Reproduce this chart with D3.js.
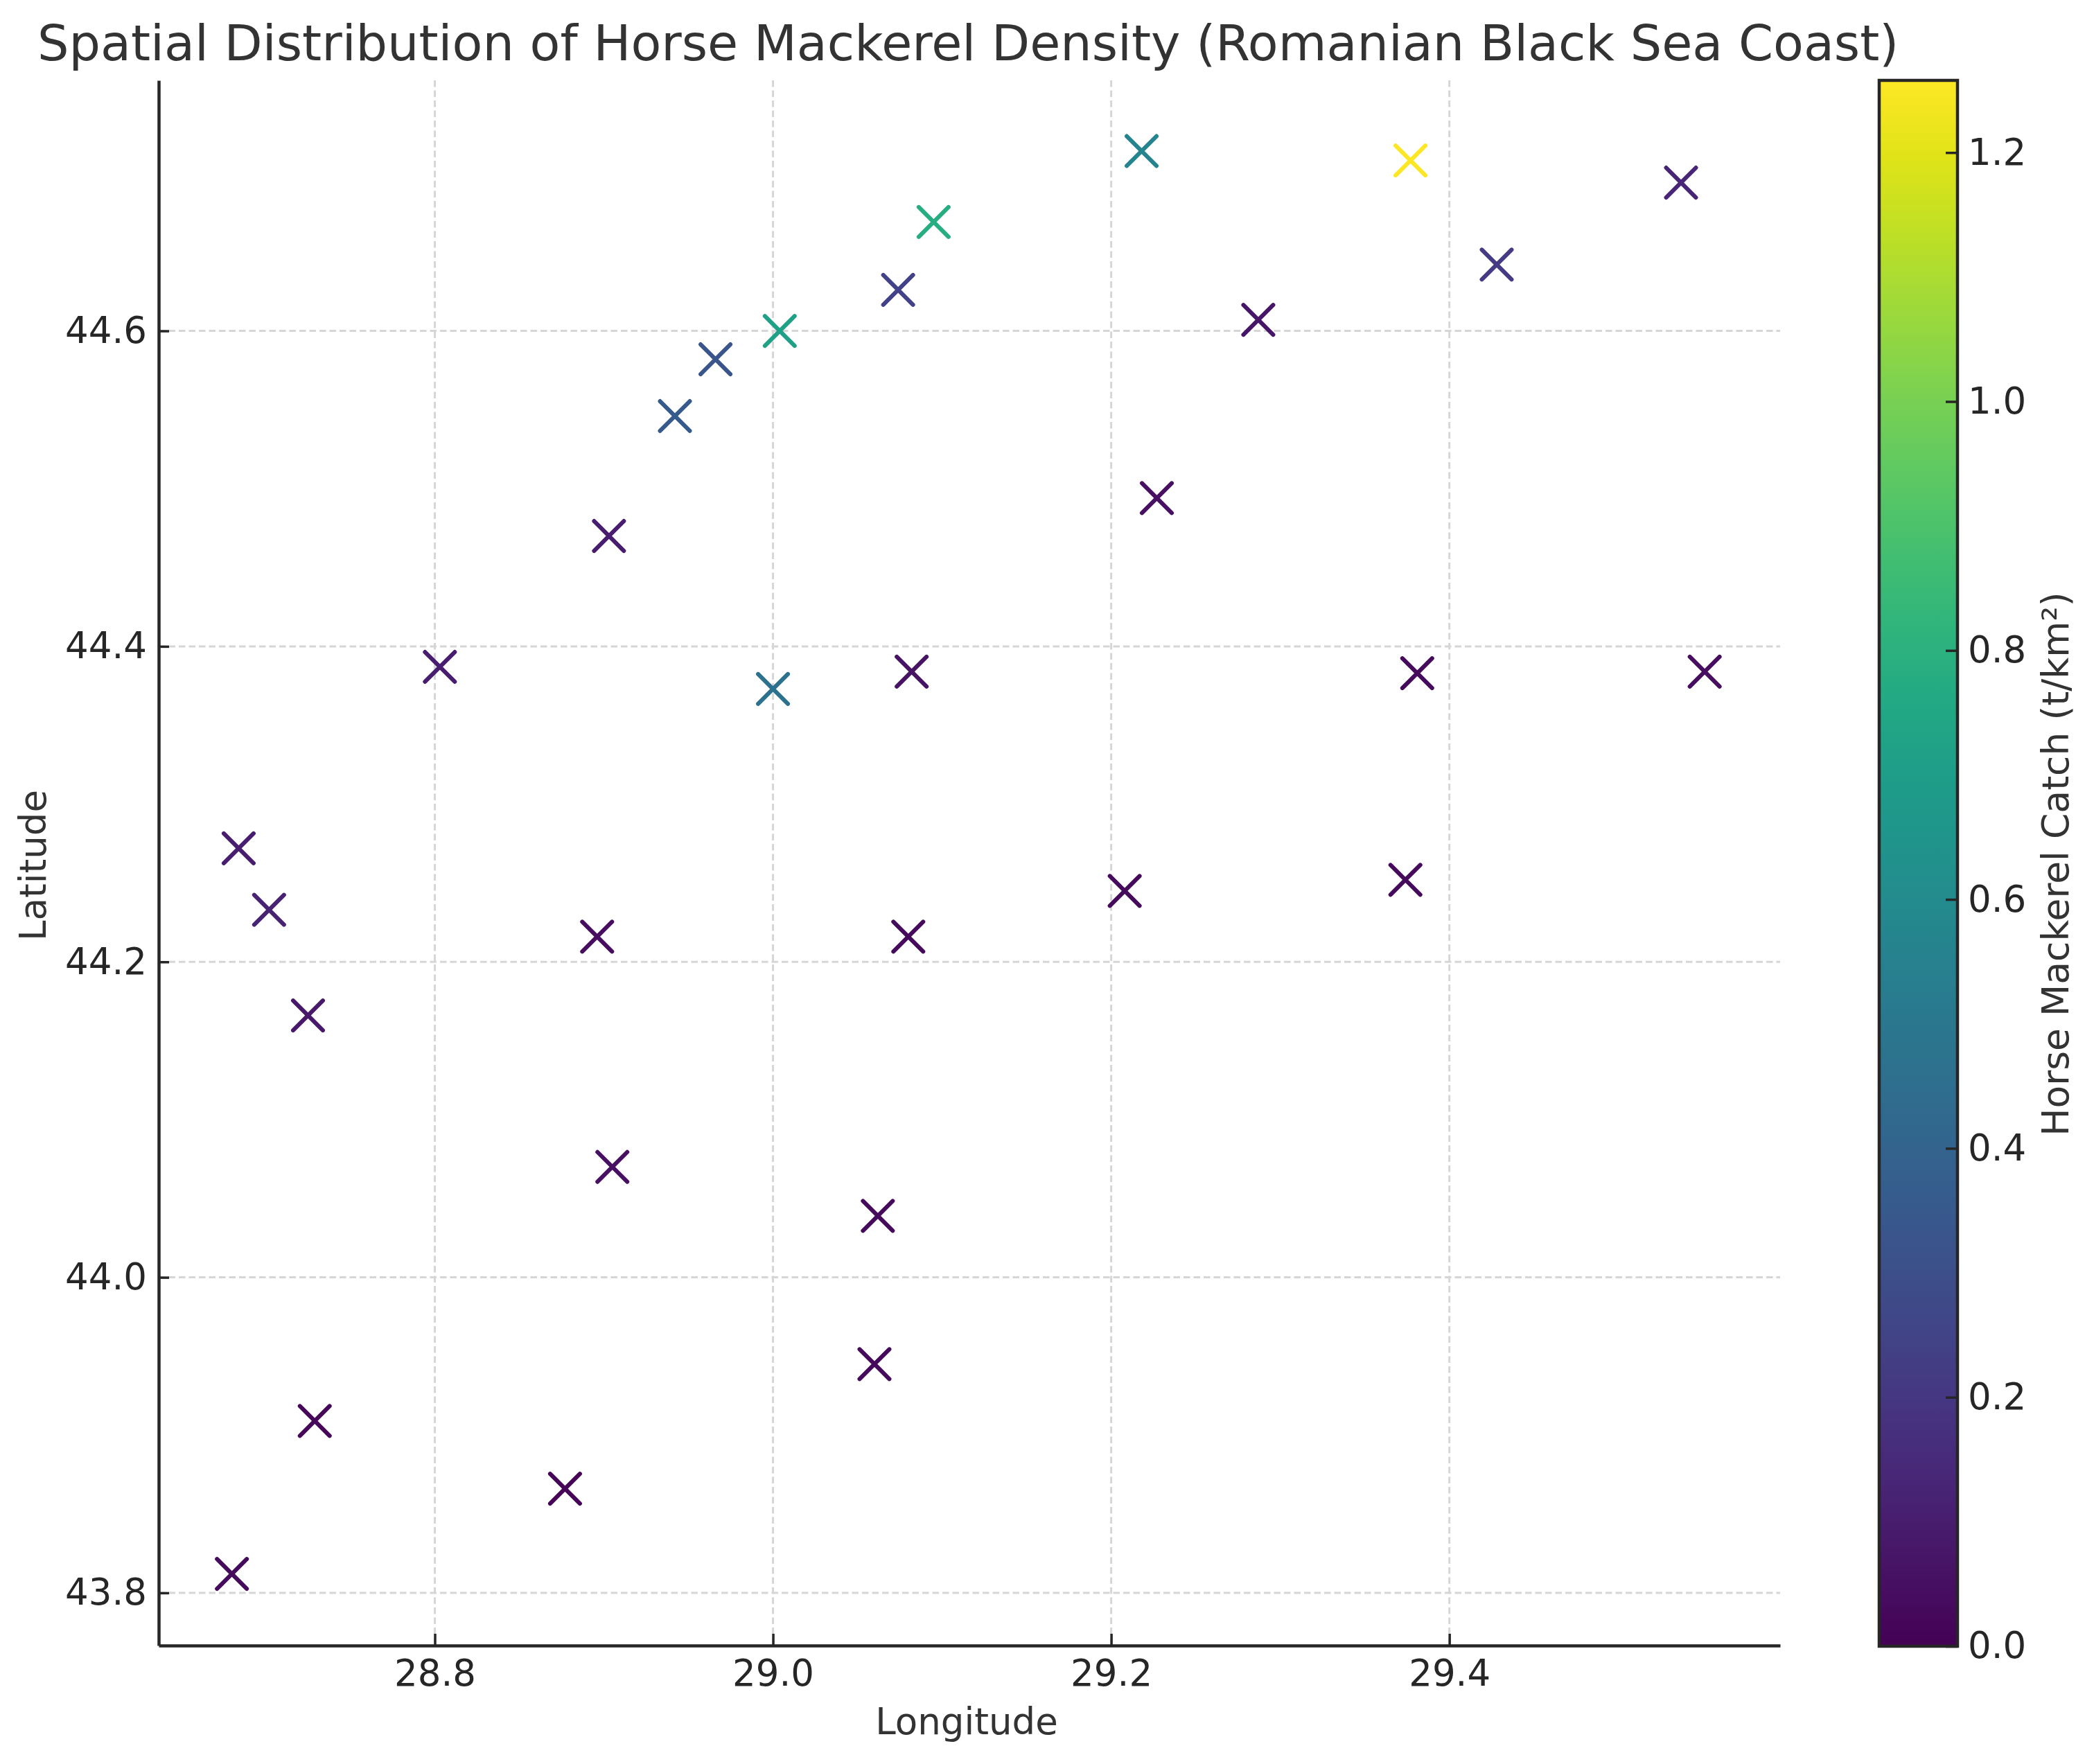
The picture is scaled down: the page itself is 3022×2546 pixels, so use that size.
<!DOCTYPE html>
<html>
<head>
<meta charset="utf-8">
<script src="https://cdn.jsdelivr.net/npm/d3@7"></script>
<style>
  body { margin: 0; background: #fff; }
  text { font-family: "DejaVu Sans", sans-serif; }
</style>
</head>
<body>
<div id="chart"></div>
<script>
const lon = [28.680, 28.729, 28.877, 29.060, 29.062, 28.905, 28.725, 28.702, 28.684, 28.896,
             29.080, 29.208, 29.374, 28.803, 29.000, 29.082, 29.381, 29.551, 28.903, 29.227,
             28.942, 28.966, 29.004, 29.074, 29.095, 29.218, 29.287, 29.377, 29.428, 29.537];
const lat = [43.812, 43.909, 43.866, 43.945, 44.039, 44.070, 44.166, 44.233, 44.272, 44.216,
             44.216, 44.245, 44.252, 44.387, 44.373, 44.384, 44.383, 44.384, 44.470, 44.494,
             44.546, 44.582, 44.600, 44.626, 44.669, 44.714, 44.607, 44.708, 44.642, 44.694];
const catchVal = [0.03, 0.02, 0.01, 0.03, 0.03, 0.05, 0.08, 0.12, 0.10, 0.04,
                  0.03, 0.03, 0.03, 0.10, 0.47, 0.06, 0.03, 0.04, 0.10, 0.05,
                  0.35, 0.33, 0.72, 0.25, 0.78, 0.57, 0.07, 1.258, 0.22, 0.13];
const lonTicks = [28.8, 29.0, 29.2, 29.4];
const latTicks = [43.8, 44.0, 44.2, 44.4, 44.6];
const cbarTicks = [0, 0.2, 0.4, 0.6, 0.8, 1.0, 1.2];

const title = 'Spatial Distribution of Horse Mackerel Density (Romanian Black Sea Coast)';
const xLabel = 'Longitude';
const yLabel = 'Latitude';
const cbarLabel = 'Horse Mackerel Catch (t/km²)';

const w = 3022;
const h = 2546;
const plot = { left: 229, right: 2569, top: 116, bottom: 2375 };
const cbar = { left: 2712, right: 2825, top: 116, bottom: 2376 };
const text_color = '#333';
const tick_color = '#262626';
const grid_color = '#d6d6d6';
const tick_size = 53;

const svg = d3.select('#chart')
  .append('svg')
  .attr('width', w)
  .attr('height', h)
  .style('display', 'block');

const xScale = d3.scaleLinear().domain([28.6367, 29.5956]).range([plot.left, plot.right]);
const yScale = d3.scaleLinear().domain([43.7666, 44.7588]).range([plot.bottom, plot.top]);
const cScale = d3.scaleLinear().domain([0, 1.258]).range([cbar.bottom, cbar.top]);
const colorScale = d3.scaleSequential(d3.interpolateViridis).domain([0, 1.258]);

// grid
svg.append('g').selectAll('line')
  .data(lonTicks)
  .join('line')
  .attr('x1', d => xScale(d)).attr('x2', d => xScale(d))
  .attr('y1', plot.top).attr('y2', plot.bottom)
  .attr('stroke', grid_color).attr('stroke-width', 3).attr('stroke-dasharray', '9.5 5');
svg.append('g').selectAll('line')
  .data(latTicks)
  .join('line')
  .attr('x1', plot.left).attr('x2', plot.right)
  .attr('y1', d => yScale(d)).attr('y2', d => yScale(d))
  .attr('stroke', grid_color).attr('stroke-width', 3).attr('stroke-dasharray', '9.5 5');

function styleAxis(g) {
  g.selectAll('.domain').attr('stroke', tick_color).attr('stroke-width', 4.5);
  g.selectAll('.tick line').attr('stroke', tick_color).attr('stroke-width', 3.5);
  g.selectAll('.tick text')
    .attr('fill', tick_color)
    .style('font-size', tick_size + 'px');
}

// axes, ticks point inward
const xAxis = svg.append('g')
  .attr('transform', `translate(0, ${plot.bottom})`)
  .call(d3.axisBottom(xScale).tickValues(lonTicks).tickFormat(d3.format('.1f')).tickSizeInner(-17).tickSizeOuter(0).tickPadding(20));
styleAxis(xAxis);

const yAxis = svg.append('g')
  .attr('transform', `translate(${plot.left}, 0)`)
  .call(d3.axisLeft(yScale).tickValues(latTicks).tickFormat(d3.format('.1f')).tickSizeInner(-15).tickSizeOuter(0).tickPadding(17));
styleAxis(yAxis);

// markers
const marker = d3.symbol().type(d3.symbolTimes).size(1206);
svg.append('g').selectAll('path')
  .data(lon.map((d, i) => i))
  .join('path')
  .attr('d', marker)
  .attr('transform', i => `translate(${xScale(lon[i])}, ${yScale(lat[i])})`)
  .attr('fill', 'none')
  .attr('stroke', i => colorScale(catchVal[i]))
  .attr('stroke-width', 6)
  .attr('stroke-linecap', 'round');

// colorbar
const grad = svg.append('defs').append('linearGradient')
  .attr('id', 'viridis')
  .attr('x1', 0).attr('x2', 0).attr('y1', 1).attr('y2', 0);
grad.selectAll('stop')
  .data(d3.range(0, 1.001, 0.05))
  .join('stop')
  .attr('offset', d => d)
  .attr('stop-color', d => d3.interpolateViridis(d));

svg.append('rect')
  .attr('x', cbar.left).attr('y', cbar.top)
  .attr('width', cbar.right - cbar.left).attr('height', cbar.bottom - cbar.top)
  .attr('fill', 'url(#viridis)')
  .attr('stroke', tick_color).attr('stroke-width', 4.5);

const cAxis = svg.append('g')
  .attr('transform', `translate(${cbar.right}, 0)`)
  .call(d3.axisRight(cScale).tickValues(cbarTicks).tickFormat(d3.format('.1f')).tickSizeInner(-17).tickSizeOuter(0).tickPadding(15));
styleAxis(cAxis);
cAxis.select('.domain').remove();

// titles
svg.append('text')
  .attr('x', 54).attr('y', 87)
  .attr('fill', text_color)
  .style('font-size', '71.7px')
  .text(title);

svg.append('text')
  .attr('x', 1395).attr('y', 2503)
  .attr('text-anchor', 'middle')
  .attr('fill', text_color)
  .style('font-size', '53px')
  .text(xLabel);

svg.append('text')
  .attr('transform', 'translate(66, 1249) rotate(-90)')
  .attr('text-anchor', 'middle')
  .attr('fill', text_color)
  .style('font-size', '53px')
  .text(yLabel);

svg.append('text')
  .attr('transform', 'translate(2985, 1247) rotate(-90)')
  .attr('text-anchor', 'middle')
  .attr('fill', text_color)
  .style('font-size', '53.5px')
  .text(cbarLabel);
</script>
</body>
</html>
